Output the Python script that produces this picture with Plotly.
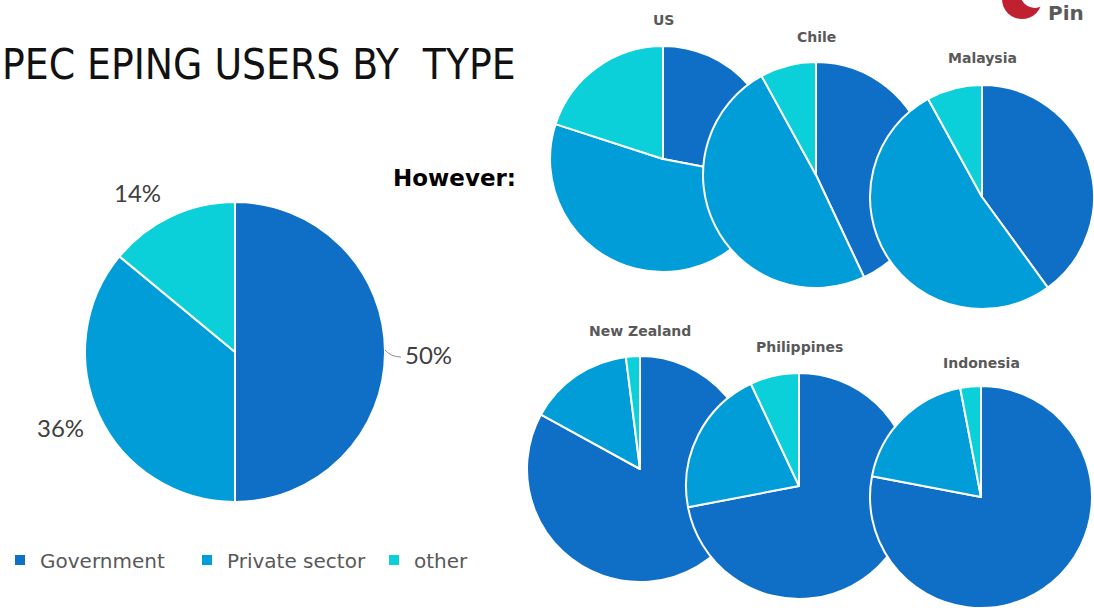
import plotly.graph_objects as go

W, H = 1094, 608

labels = ["Government", "Private sector", "other"]
colors = ["#0F6FC6", "#009DD9", "#0BD0D9"]

overall = [50, 36, 14]
overall_text = ["50%", "36%", "14%"]

countries = ["US", "Chile", "Malaysia", "New Zealand", "Philippines", "Indonesia"]
us = [28, 52, 20]
chile = [43, 49, 8]
malaysia = [40, 52, 8]
new_zealand = [83, 15, 2]
philippines = [72, 21, 7]
indonesia = [78, 19, 3]
country_values = [us, chile, malaysia, new_zealand, philippines, indonesia]

# layout geometry (pixels): centre x, centre y, radius
main_geo = (235, 352, 150)
country_geo = [
    (663, 159, 113),
    (816, 175, 113),
    (982, 197, 112),
    (640, 469, 113),
    (799, 486, 113),
    (981, 497, 111),
]
title_y = [20, 37, 58, 331, 347, 363]


def fx(px):
    return px / W


def fy(py):
    return 1 - py / H


def dom(cx, cy, r):
    return dict(
        x=[max(0, fx(cx - r)), min(1, fx(cx + r))],
        y=[max(0, fy(cy + r)), min(1, fy(cy - r))],
    )


fig = go.Figure()

fig.add_trace(go.Pie(
    labels=labels, values=overall, sort=False, direction="clockwise", rotation=0,
    marker=dict(colors=colors, line=dict(color="white", width=2)),
    textinfo="none", domain=dom(*main_geo), showlegend=True, hoverinfo="label+percent",
))

for name, vals, geo in zip(countries, country_values, country_geo):
    fig.add_trace(go.Pie(
        labels=labels, values=vals, sort=False, direction="clockwise", rotation=0,
        marker=dict(colors=colors, line=dict(color="white", width=2)),
        textinfo="none", domain=dom(*geo), showlegend=False, name=name,
        hoverinfo="label+percent",
    ))

annotations = []
# big title
annotations.append(dict(
    text="PEC EPING USERS BY  TYPE", x=0, y=fy(64), xref="paper", yref="paper",
    xanchor="left", yanchor="middle", showarrow=False,
    font=dict(family="DejaVu Sans Condensed, sans-serif", size=42, color="#111111"),
))
annotations.append(dict(
    text="<b>However:</b>", x=fx(391), y=fy(178), xref="paper", yref="paper",
    xanchor="left", yanchor="middle", showarrow=False,
    font=dict(family="DejaVu Sans, sans-serif", size=23, color="#000000"),
))
# country titles
for name, geo, ty in zip(countries, country_geo, title_y):
    annotations.append(dict(
        text=f"<b>{name}</b>", x=fx(geo[0]), y=fy(ty), xref="paper", yref="paper",
        xanchor="center", yanchor="middle", showarrow=False,
        font=dict(family="DejaVu Sans, sans-serif", size=14, color="#595959"),
    ))
# percentage labels of main pie
label_pos = [(428, 354), (60, 427), (137, 193)]
for t, (lx, ly) in zip(overall_text, label_pos):
    annotations.append(dict(
        text=t, x=fx(lx), y=fy(ly), xref="paper", yref="paper",
        xanchor="center", yanchor="middle", showarrow=False,
        font=dict(family="Lato, sans-serif", size=24, color="#404040"),
    ))
# logo text
annotations.append(dict(
    text="<b>Pin</b>", x=fx(1046), y=fy(13), xref="paper", yref="paper",
    xanchor="left", yanchor="middle", showarrow=False,
    font=dict(family="DejaVu Sans, sans-serif", size=20, color="#5a5a5a"),
))

shapes = [
    dict(type="path", xref="paper", yref="paper",
         path=f"M {fx(385)} {fy(350)} Q {fx(391)} {fy(357)} {fx(401)} {fy(357)}",
         line=dict(color="#8c8c8c", width=1)),
    dict(type="circle", xref="paper", yref="paper",
         x0=fx(1002), x1=fx(1042), y0=fy(19), y1=fy(-21),
         fillcolor="#C0202F", line=dict(width=0)),
    dict(type="circle", xref="paper", yref="paper",
         x0=fx(1020), x1=fx(1050), y0=fy(8), y1=fy(-22),
         fillcolor="white", line=dict(width=0)),
]

fig.update_layout(
    width=W, height=H, margin=dict(l=0, r=0, t=0, b=0),
    paper_bgcolor="white", plot_bgcolor="white",
    annotations=annotations, shapes=shapes,
    legend=dict(
        orientation="h", x=0, y=fy(560), xanchor="left", yanchor="middle",
        font=dict(family="DejaVu Sans, sans-serif", size=20, color="#595959"),
        bgcolor="rgba(0,0,0,0)", entrywidth=142, entrywidthmode="pixels",
    ),
)

fig.write_html("out.html")
